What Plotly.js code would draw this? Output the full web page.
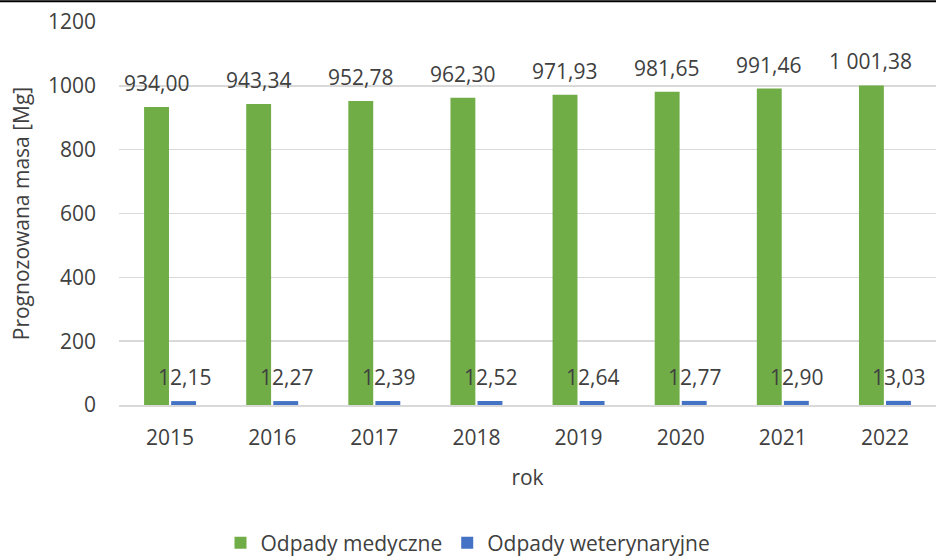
<!DOCTYPE html>
<html>
<head>
<meta charset="utf-8">
<script src="https://cdn.plot.ly/plotly-3.0.1.min.js"></script>
<style>
  html, body { margin: 0; padding: 0; background: #fff; }
  #chart { width: 936px; height: 560px; }
</style>
</head>
<body>
<div id="chart"></div>
<script>
// years on the x axis
const years = ['2015', '2016', '2017', '2018', '2019', '2020', '2021', '2022'];
// forecast mass [Mg]
const medyczne = [934.00, 943.34, 952.78, 962.30, 971.93, 981.65, 991.46, 1001.38];
const weterynaryjne = [12.15, 12.27, 12.39, 12.52, 12.64, 12.77, 12.90, 13.03];

const FONT = 'Open Sans, Noto Sans, sans-serif';
const TXT = '#404040';
const FS = 21;

// polish number style: 1 001,38
var fmt = v => {
    let parts = v.toFixed(2).split('.');
    let intPart = parts[0].replace(/\B(?=(\d{3})+(?!\d))/g, ' ');
    return intPart + ',' + parts[1];
};

var traces = [
    {
        type: 'bar',
        name: 'Odpady medyczne',
        x: years,
        y: medyczne,
        marker: {color: '#70AD47'},
        hoverinfo: 'none'
    },
    {
        type: 'bar',
        name: 'Odpady weterynaryjne',
        x: years,
        y: weterynaryjne,
        marker: {color: '#4472C4'},
        hoverinfo: 'none'
    }
];

// data labels, x is the category index on the category axis
var annotations = [];
for (let i = 0; i < years.length; ++i) {
    annotations.push({
        x: i, y: medyczne[i], xref: 'x', yref: 'y',
        text: fmt(medyczne[i]), showarrow: false,
        xshift: -14, yshift: 8, yanchor: 'bottom',
        font: {family: FONT, size: FS, color: TXT}
    });
    annotations.push({
        x: i, y: weterynaryjne[i], xref: 'x', yref: 'y',
        text: fmt(weterynaryjne[i]), showarrow: false,
        xshift: 14, yshift: 8, yanchor: 'bottom',
        font: {family: FONT, size: FS, color: TXT}
    });
}

var layout = {
    width: 936,
    height: 560,
    margin: {l: 119, r: 0, t: 22, b: 155, pad: 0},
    paper_bgcolor: '#ffffff',
    plot_bgcolor: '#ffffff',
    font: {family: FONT, size: FS, color: TXT},
    barmode: 'group',
    bargap: 0.47,
    bargroupgap: 0.08,
    showlegend: true,
    legend: {
        orientation: 'h',
        xref: 'container', yref: 'container',
        x: 0.5, xanchor: 'center',
        y: 0.03, yanchor: 'middle',
        font: {family: FONT, size: FS, color: TXT},
        itemwidth: 20,
        traceorder: 'normal'
    },
    xaxis: {
        type: 'category',
        range: [-0.5, 7.5],
        showgrid: false,
        showline: true,
        linecolor: '#d9d9d9',
        linewidth: 1.5,
        ticks: '',
        ticklabelstandoff: 13,
        tickfont: {family: FONT, size: FS, color: TXT},
        title: {text: 'rok', standoff: 20, font: {family: FONT, size: FS, color: TXT}}
    },
    yaxis: {
        range: [0, 1200],
        dtick: 200,
        showgrid: true,
        gridcolor: '#d9d9d9',
        gridwidth: 1.5,
        zeroline: false,
        showline: false,
        ticks: '',
        ticklabelstandoff: 22,
        tickfont: {family: FONT, size: FS, color: TXT},
        title: {text: 'Prognozowana masa [Mg]', standoff: 12, font: {family: FONT, size: FS, color: TXT}}
    },
    annotations: annotations,
    shapes: [
        {
            type: 'line', xref: 'paper', yref: 'paper',
            x0: -0.146, x1: 1, y0: 1.054, y1: 1.054,
            line: {color: '#000000', width: 2}
        }
    ]
};

Plotly.newPlot('chart', traces, layout, {displayModeBar: false, staticPlot: true});
</script>
</body>
</html>
